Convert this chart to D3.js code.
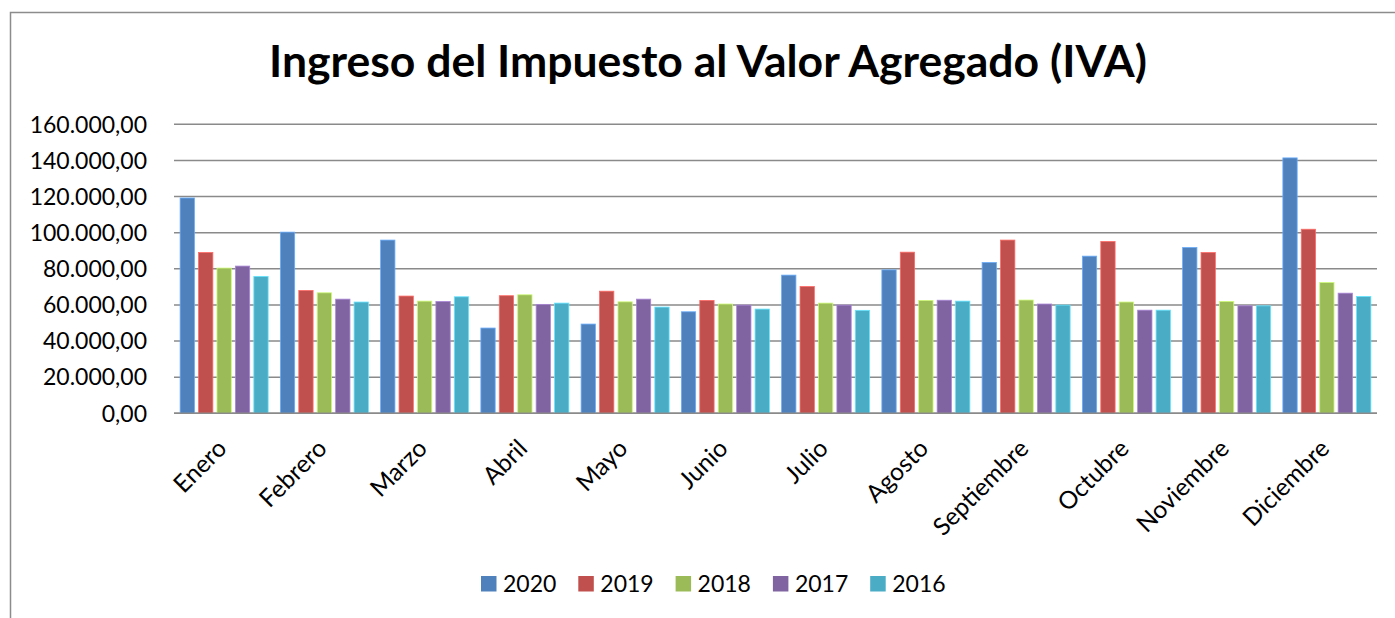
<!DOCTYPE html>
<html>
<head>
<meta charset="utf-8">
<script src="https://cdn.jsdelivr.net/npm/d3@7"></script>
<style>
  body { margin: 0; background: #fff; }
  text { font-family: Lato, "Noto Sans", sans-serif; fill: #000; }
</style>
</head>
<body>
<div id="chart"></div>
<script>
// data
var months = ["Enero","Febrero","Marzo","Abril","Mayo","Junio","Julio","Agosto","Septiembre","Octubre","Noviembre","Diciembre"];
var years = ["2020","2019","2018","2017","2016"];
var iva2020 = [119200,100300,95900,47200,49400,56200,76500,79400,83500,87000,91800,141400];
var iva2019 = [89000,68000,64900,65100,67600,62500,70200,89200,95900,95100,89000,101900];
var iva2018 = [80400,66700,62100,65600,61700,60500,61000,62500,62700,61600,61900,72400];
var iva2017 = [81500,63200,61900,60300,63200,59900,59900,62600,60500,57100,59500,66500];
var iva2016 = [75800,61600,64500,61000,58800,57700,57000,62100,59900,57100,59500,64700];
var yTicks = [0,20000,40000,60000,80000,100000,120000,140000,160000];
var colors = ["#4F81BD","#C0504D","#9BBB59","#8064A2","#4BACC6"];

var seriesValues = [iva2020, iva2019, iva2018, iva2017, iva2016];

// svg size
var svgWidth = 1395;
var svgHeight = 618;

var plot = { left: 174, right: 1377, top: 124.3, bottom: 413.3 };

var svg = d3.select("#chart")
  .append("svg")
  .attr("width", svgWidth)
  .attr("height", svgHeight);

// chart border (top + left visible)
svg.append("path")
  .attr("d", "M10.5," + svgHeight + "V12.5H" + svgWidth)
  .attr("fill", "none")
  .attr("stroke", "#8c8c8c")
  .attr("stroke-width", 1.5);

// title
svg.append("text")
  .attr("x", 708)
  .attr("y", 77)
  .attr("text-anchor", "middle")
  .attr("font-size", "44.5px")
  .attr("font-weight", "bold")
  .text("Ingreso del Impuesto al Valor Agregado (IVA)");

// scales
var x0 = d3.scaleBand()
  .domain(months)
  .range([plot.left, plot.right])
  .paddingInner(0.122)
  .paddingOuter(0.061);

var x1 = d3.scaleBand()
  .domain(years)
  .range([0, x0.bandwidth()])
  .paddingInner(0.224);

var y = d3.scaleLinear()
  .domain([0, 160000])
  .range([plot.bottom, plot.top]);

var fmt = function(v) {
  var s = d3.format(",.2f")(v);
  return s.replace(/,/g, "#").replace(".", ",").replace(/#/g, ".");
};

// gridlines
svg.append("g")
  .selectAll("line")
  .data(yTicks)
  .enter()
  .append("line")
  .attr("x1", plot.left)
  .attr("x2", plot.right)
  .attr("y1", d => y(d))
  .attr("y2", d => y(d))
  .attr("stroke", "#8a8a8a")
  .attr("stroke-width", 1.5);

// y labels
svg.append("g")
  .selectAll("text")
  .data(yTicks)
  .enter()
  .append("text")
  .attr("x", 147)
  .attr("y", d => y(d))
  .attr("dy", "0.36em")
  .attr("text-anchor", "end")
  .attr("font-size", "23px")
  .text(d => fmt(d));

// bars
var groups = svg.append("g")
  .selectAll("g")
  .data(months)
  .enter()
  .append("g")
  .attr("transform", d => `translate(${x0(d)},0)`);

groups.selectAll("rect")
  .data((m, i) => years.map((yr, j) => ({ year: yr, value: seriesValues[j][i], color: colors[j] })))
  .enter()
  .append("rect")
  .attr("x", d => x1(d.year))
  .attr("width", x1.bandwidth())
  .attr("y", d => y(d.value))
  .attr("height", d => y(0) - y(d.value))
  .attr("fill", d => d.color)
  .attr("stroke", d => d3.color(d.color).brighter(0.8))
  .attr("stroke-width", 0.8);

// x axis line
svg.append("line")
  .attr("x1", plot.left)
  .attr("x2", plot.right)
  .attr("y1", y(0))
  .attr("y2", y(0))
  .attr("stroke", "#8a8a8a")
  .attr("stroke-width", 1.5);

// x labels
svg.append("g")
  .selectAll("text")
  .data(months)
  .enter()
  .append("text")
  .attr("transform", d => `translate(${x0(d) + x0.bandwidth() / 2 + 4},${450}) rotate(-45)`)
  .attr("text-anchor", "end")
  .attr("font-size", "24.5px")
  .text(d => d);

// legend
var legend = svg.append("g")
  .selectAll("g")
  .data(years)
  .enter()
  .append("g")
  .attr("transform", (d, i) => `translate(${481 + i * 97.3},576)`);

legend.append("rect")
  .attr("width", 15.5)
  .attr("height", 15.5)
  .attr("fill", (d, i) => colors[i]);

legend.append("text")
  .attr("x", 22)
  .attr("y", 15.7)
  .attr("font-size", "23px")
  .text(d => d);
</script>
</body>
</html>
